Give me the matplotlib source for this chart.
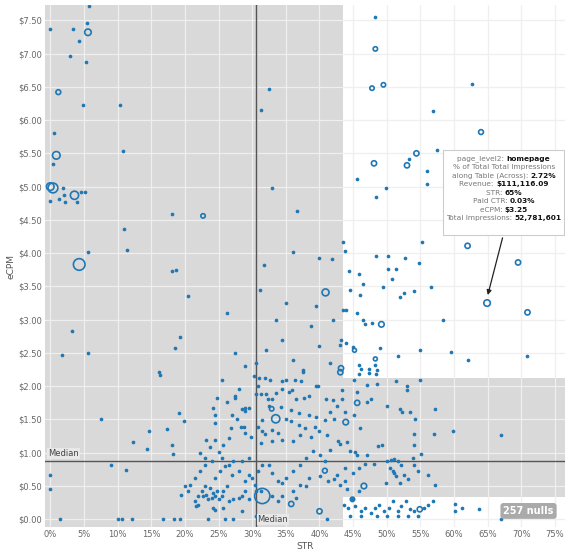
import matplotlib
matplotlib.use("Agg")
import matplotlib.pyplot as plt
from matplotlib.patches import Rectangle, FancyBboxPatch

# small filled dots: STR (%), eCPM ($)
dots = [
    (5.8, 7.71), (5.5, 7.46), (3.4, 7.37), (0, 7.37), (4.2, 7.19), (3.0, 6.96), (5.3, 6.87),
    (4.9, 6.23), (10.3, 6.23), (32.5, 6.47), (31.3, 6.15), (0.6, 5.80), (0.4, 5.34), (10.8, 5.53),
    (1.9, 4.98), (33, 4.98), (4.5, 4.92), (5.1, 4.92), (0, 4.78), (1.3, 4.81), (2.2, 4.77),
    (3.9, 4.77), (2.1, 4.87), (18.1, 4.59), (36.7, 4.63), (11, 4.36), (11.4, 4.05), (5.6, 4.01),
    (36.1, 4.02), (40, 3.92), (41.9, 3.91), (31.8, 3.82), (18.1, 3.73), (18.7, 3.74),
    (1.8, 2.47), (5.6, 2.5), (3.3, 2.83), (19.3, 2.74), (18.6, 2.57), (16.3, 2.17), (20.5, 3.35),
    (26.3, 3.1), (31.2, 3.44), (33.5, 3.0), (34.5, 2.7), (32, 2.55), (30.5, 2.35), (36, 2.4),
    (38.8, 2.9), (40, 2.6), (41.5, 2.35), (37.5, 2.25), (29, 2.3), (27.5, 2.5), (35, 3.25),
    (39.5, 3.2), (42, 3.0),
    (53.3, 5.41), (57.4, 5.55), (45.6, 5.11), (55.9, 5.23), (55.9, 5.04), (49.9, 4.98), (48.4, 4.84),
    (43.5, 4.17), (43.8, 4.03), (55.3, 4.17), (48.4, 3.95), (50.2, 3.95), (52.7, 3.93), (54.8, 3.85),
    (44.4, 3.73), (50.2, 3.76), (51.3, 3.76), (45.9, 3.68), (46.4, 3.53), (50.8, 3.61), (49.5, 3.49),
    (56.6, 3.49), (44.6, 3.44), (46, 3.37), (52.6, 3.40), (54.1, 3.43), (52, 3.34), (43.5, 3.14),
    (44, 3.14), (45.5, 3.10), (46.4, 3.0), (46.7, 2.93), (47.8, 2.95), (58.4, 3.0), (43.2, 2.7),
    (43.1, 2.62), (44, 2.65), (45, 2.59), (49, 2.57), (55, 2.55), (59.6, 2.51), (51.6, 2.45),
    (62.1, 2.39), (70.9, 2.45), (48.3, 2.32), (45.9, 2.32), (45.9, 2.18), (47.4, 2.2), (48.4, 2.18),
    (48.3, 7.55), (56.9, 6.14), (62.6, 6.54),
    (16.2, 2.21), (25.5, 2.10), (30.2, 2.16), (31, 2.12), (31.9, 2.13), (32.6, 2.09), (34.4, 2.08),
    (35, 2.10), (36.4, 2.10), (37.2, 2.08), (37.6, 2.22), (45.1, 2.10), (46.1, 2.26), (47.3, 2.26),
    (48.5, 2.25), (51.3, 2.08), (54.9, 2.09), (53, 2.0), (53, 1.95),
    (28, 1.96), (27.4, 1.86), (27.5, 1.82), (24.8, 1.82), (26.3, 1.76), (29, 1.67), (29.6, 1.67),
    (28.5, 1.66), (29, 1.63), (24.2, 1.67), (24.5, 1.56), (27, 1.56), (27.7, 1.51), (28.4, 1.39),
    (28.8, 1.38), (26.8, 1.37), (24.5, 1.45), (19.1, 1.60), (19.9, 1.47), (7.5, 1.50), (14.7, 1.33),
    (17.3, 1.36), (12.3, 1.16), (14.3, 1.05), (18.1, 1.11), (18.2, 0.98), (9, 0.82), (11.3, 0.74),
    (30.8, 2.01), (30.5, 1.89), (31.3, 1.89), (32, 1.89), (32.4, 1.81), (33, 1.81), (33.5, 1.90),
    (34.5, 1.96), (35.4, 1.91), (35.9, 1.94), (36.5, 1.81), (37.7, 1.82), (38.4, 1.85), (39.5, 2.0),
    (39.8, 2.01), (40.9, 1.81), (42, 1.79), (43.3, 1.81), (42.6, 1.71), (47.1, 1.76), (47.6, 1.81),
    (43.4, 1.95), (45.6, 1.91), (47.1, 2.02), (48.5, 2.03), (50, 1.71), (51.9, 1.65), (52.3, 1.61),
    (57.2, 1.66), (32.5, 1.71), (34.3, 1.69), (35.8, 1.64), (37, 1.60), (38.5, 1.56), (39.5, 1.54),
    (40.8, 1.49), (41.6, 1.61), (42.1, 1.51), (43.8, 1.61), (45.1, 1.56), (46, 1.37),
    (31.5, 1.49), (30.8, 1.39), (31.5, 1.32), (31.9, 1.28), (33, 1.34), (33.8, 1.29), (35, 1.51),
    (35.8, 1.47), (37, 1.41), (37.9, 1.37), (39.3, 1.39), (39.9, 1.32), (41.1, 1.27), (38.8, 1.23),
    (37.1, 1.27), (36, 1.17), (34.5, 1.19), (33, 1.17), (31.3, 1.14), (29.8, 1.23), (29, 1.29),
    (26.5, 1.22), (25.7, 1.12), (24.5, 1.19), (23.1, 1.19), (23.7, 1.09), (25, 1.01), (22.2, 0.99),
    (23, 0.92), (42.8, 1.17), (43.1, 1.13), (44.1, 1.16), (44.6, 1.02), (45.3, 1.01), (48.7, 1.10),
    (49.3, 1.12), (54.1, 1.12), (54.1, 1.28), (54.2, 1.51), (53.5, 1.61), (57, 1.28), (59.8, 1.32),
    (67, 1.26), (55.1, 0.98), (53.9, 0.92), (54, 0.82), (54.7, 0.73), (56.1, 0.67), (57.2, 0.52),
    (50.1, 0.87), (50.6, 0.89), (51, 0.91), (51.6, 0.88), (52.1, 0.82), (50.5, 0.77), (50.9, 0.72),
    (51.1, 0.70), (52.6, 0.67), (53.1, 0.61), (52, 0.55), (51.3, 0.65), (49.9, 0.55),
    (45.6, 0.97), (47, 0.97), (48.1, 0.83), (46.8, 0.83), (45.8, 0.77), (45, 0.69), (43.8, 0.77),
    (42.6, 0.67), (43.8, 0.58), (43, 0.51), (44.1, 0.45), (44.8, 0.30), (45.8, 0.42),
    (40.1, 0.65), (41.3, 0.58), (42.1, 0.60), (38.5, 0.62), (38, 0.50), (37.1, 0.52), (36.1, 0.42),
    (36.5, 0.32), (34.5, 0.35), (33.8, 0.27), (33, 0.35), (31.3, 0.42), (30.5, 0.42), (30.4, 0.52),
    (30, 0.62), (30.8, 0.72), (31.5, 0.82), (32.5, 0.82), (33, 0.69), (33.8, 0.57), (34.5, 0.55),
    (35, 0.62), (36.1, 0.72), (37.1, 0.82), (38, 0.92), (39.1, 1.02), (40.1, 0.97), (41.6, 1.04),
    (40.8, 0.87),
    (23.7, 0.47), (24.2, 0.40), (24.5, 0.35), (24.7, 0.42), (24, 0.32), (23.5, 0.30), (23.2, 0.37),
    (22.7, 0.35), (25, 0.30), (25.5, 0.35), (25.7, 0.42), (26.2, 0.50), (26.5, 0.27), (27.2, 0.30),
    (28, 0.32), (28.5, 0.35), (29, 0.42), (29.5, 0.30), (23, 0.50), (22.5, 0.42), (22, 0.35),
    (21.5, 0.27), (20.5, 0.42), (20, 0.50), (19.4, 0.37), (21.7, 0.20), (22, 0.21), (24.2, 0.17),
    (24.5, 0.14), (25.7, 0.17), (28.5, 0.12), (30.5, 0.05),
    (24.5, 0.62), (25.2, 0.72), (26, 0.80), (27, 0.67), (28, 0.72), (29, 0.57), (29.5, 0.67),
    (27.2, 0.87), (26.5, 0.82), (28.5, 0.87), (29.5, 0.92), (25.5, 0.92), (24, 0.87), (23, 0.82),
    (22.2, 0.72), (21.5, 0.62), (20.7, 0.52),
    (1.5, 0), (10, 0), (10.6, 0), (12.2, 0), (16.7, 0), (18.4, 0), (19.3, 0), (23.5, 0), (26, 0),
    (27.2, 0), (32.5, 0), (34.5, 0), (41.1, 0), (67, 0), (0, 0.67), (0, 0.45),
    (43.6, 0.22), (44.3, 0.17), (45.3, 0.20), (46.1, 0.12), (46.8, 0.17), (47.6, 0.10), (48.3, 0.17),
    (48.8, 0.22), (49.6, 0.12), (50.3, 0.17), (50.9, 0.27), (51.6, 0.12), (52.1, 0.20), (52.9, 0.27),
    (53.4, 0.15), (54.1, 0.12), (55.6, 0.17), (56.1, 0.22), (56.9, 0.27), (48.6, 0.05), (50.1, 0.05),
    (51.6, 0.05), (53.1, 0.05), (54.6, 0.05), (44.6, 0.05), (46.1, 0.05), (60.2, 0.23), (60.1, 0.12),
    (61.2, 0.17), (63.7, 0.15),
]

# open circles: STR (%), eCPM ($), marker area
rings = [
    (5.6, 7.32, 22), (1.2, 6.42, 12), (0.9, 5.47, 30), (0, 5.0, 30), (0.4, 4.98, 50), (3.6, 4.87, 35),
    (22.7, 4.56, 10), (4.3, 3.83, 70), (40.9, 3.41, 25), (54.4, 5.5, 14), (48.1, 5.35, 14),
    (53, 5.32, 14), (62, 4.11, 14), (69.5, 3.86, 14), (64.9, 3.25, 22), (70.9, 3.11, 14),
    (49.2, 2.93, 16), (45.2, 2.54, 8), (48.3, 2.41, 8), (43.1, 2.21, 14), (48.3, 7.07, 10),
    (49.5, 6.53, 10), (47.8, 6.48, 10), (64, 5.82, 12), (43.2, 2.27, 14), (45.6, 1.75, 14),
    (43.9, 1.46, 16), (33.5, 1.51, 35), (32.9, 1.66, 10), (40.8, 0.73, 12), (46.6, 0.5, 16),
    (35.8, 0.23, 14), (31.5, 0.35, 120), (54.9, 0.15, 14), (40, 0.12, 14), (44.9, 0.3, 10),
]

median_x = 30.5
median_y = 0.87
x_ticks = list(range(0, 80, 5))
y_ticks = [i * 0.5 for i in range(16)]

blue = "#1f77b4"
gray_bg = "#d9d9d9"
x0, x1 = -0.8, 76.5
y0, y1 = -0.12, 7.73

fig = plt.figure(figsize=(5.68, 5.55), dpi=100)
ax = fig.add_axes([0.079, 0.05, 0.916, 0.941])
ax.set_xlim(x0, x1)
ax.set_ylim(y0, y1)
ax.set_facecolor(gray_bg)

# witte vlakken rechts
ax.add_patch(Rectangle((43.5, 2.13), x1 - 43.5, y1 - 2.13, color="white", zorder=0.5, lw=0))
ax.add_patch(Rectangle((43.5, y0), x1 - 43.5, 0.33 - y0, color="white", zorder=0.5, lw=0))

for xt in x_ticks:
    ax.axvline(xt, color="#efefef", lw=0.9, zorder=0.8)
for yt in y_ticks:
    ax.axhline(yt, color="#efefef", lw=0.9, zorder=0.8)

ax.axvline(median_x, color="#555555", lw=1, zorder=1)
ax.axhline(median_y, color="#555555", lw=1, zorder=1)
ax.text(-0.3, median_y + 0.05, "Median", fontsize=6, color="#444444", va="bottom", zorder=4,
        bbox=dict(boxstyle="square,pad=0.1", fc="#e8e8e8", ec="none"))
ax.text(median_x + 0.3, -0.07, "Median", fontsize=6, color="#444444", va="bottom", zorder=4,
        bbox=dict(boxstyle="square,pad=0.1", fc="#e8e8e8", ec="none"))

ax.scatter([p[0] for p in dots], [p[1] for p in dots], s=7, color=blue, lw=0, zorder=2)
ax.scatter([p[0] for p in rings], [p[1] for p in rings], s=[p[2] for p in rings],
           facecolors="none", edgecolors=blue, lw=1.2, zorder=2)

ax.set_xticks(x_ticks)
ax.set_xticklabels([f"{t}%" for t in x_ticks])
ax.set_yticks(y_ticks)
ax.set_yticklabels([f"${t:.2f}" for t in y_ticks])
ax.tick_params(labelsize=6, colors="#666666", length=0, pad=2)
for s in ax.spines.values():
    s.set_visible(False)
ax.set_xlabel("STR", fontsize=6.5, color="#555555", labelpad=2)
ax.set_ylabel("eCPM", fontsize=6.5, color="#555555", labelpad=2)

ax.text(74.8, 0.05, "257 nulls", fontsize=7, color="white", fontweight="bold", ha="right",
        va="bottom", zorder=5, bbox=dict(boxstyle="round,pad=0.3", fc="#aaaaaa", ec="none"))

# tooltip
ax.add_patch(FancyBboxPatch((58.4, 4.28), 17.9, 1.27, boxstyle="square,pad=0", fc="white",
                            ec="#cccccc", lw=0.8, zorder=5))
ax.annotate("", xy=(64.9, 3.33), xytext=(67.3, 4.27),
            arrowprops=dict(arrowstyle="-|>", color="#222222", lw=0.9, mutation_scale=7), zorder=6)
tip = [
    ("page_level2: ", "homepage"),
    ("% of Total Total Impressions", ""),
    ("along Table (Across): ", "2.72%"),
    ("Revenue: ", "$111,116.09"),
    ("STR: ", "65%"),
    ("Paid CTR: ", "0.03%"),
    ("eCPM: ", "$3.25"),
    ("Total Impressions: ", "52,781,601"),
]
fig.canvas.draw()
rend = fig.canvas.get_renderer()
cx = 67.4
ty = 5.42
inv = ax.transData.inverted()
for lab, val in tip:
    t1 = ax.text(0, ty, lab, fontsize=5.3, color="#777777", va="center", zorder=7)
    t2 = ax.text(0, ty, val, fontsize=5.3, color="#111111", fontweight="bold", va="center", zorder=7)
    w1 = t1.get_window_extent(rend).width
    w2 = t2.get_window_extent(rend).width if val else 0
    cpx = ax.transData.transform((cx, ty))[0]
    left = cpx - (w1 + w2) / 2
    t1.set_x(inv.transform((left, 0))[0])
    t2.set_x(inv.transform((left + w1, 0))[0])
    ty -= 0.128

fig.savefig("out.png", dpi=100)
